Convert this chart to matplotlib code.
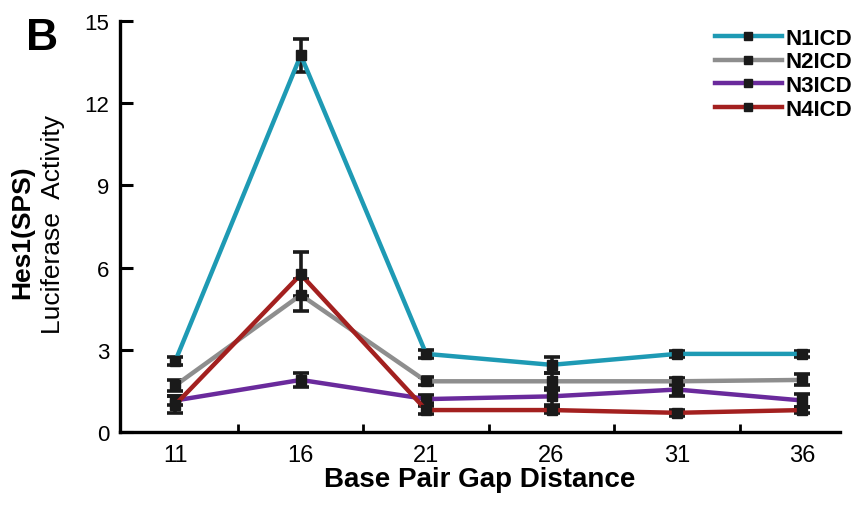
import matplotlib.pyplot as plt
from matplotlib.lines import Line2D
import numpy as np

plt.rcParams['font.family'] = ['Liberation Sans', 'DejaVu Sans']

gap = [11, 16, 21, 26, 31, 36]
labels = ['N1ICD', 'N2ICD', 'N3ICD', 'N4ICD']
n1 = [2.6, 13.75, 2.85, 2.45, 2.85, 2.85]
n2 = [1.7, 5.0, 1.85, 1.85, 1.85, 1.9]
n3 = [1.15, 1.9, 1.2, 1.3, 1.55, 1.15]
n4 = [1.0, 5.75, 0.8, 0.8, 0.7, 0.8]
n1_err = [0.15, 0.6, 0.15, 0.3, 0.12, 0.12]
n2_err = [0.2, 0.6, 0.15, 0.3, 0.12, 0.2]
n3_err = [0.15, 0.25, 0.15, 0.3, 0.25, 0.25]
n4_err = [0.3, 0.8, 0.15, 0.1, 0.1, 0.1]
colors = ['#1e9ab4', '#8e8e8e', '#6a2a9c', '#a3201f']

fig = plt.figure(figsize=(8.65, 5.1), dpi=100)
ax = fig.add_axes([0.139, 0.151, 0.832, 0.806])

handles = []
for vals, errs, c, lab in zip([n1, n2, n3, n4], [n1_err, n2_err, n3_err, n4_err], colors, labels):
    ax.errorbar(gap, vals, yerr=errs, color=c, lw=3.2, marker='s', ms=7,
                mfc='#1a1a1a', mec='#1a1a1a', ecolor='#1a1a1a', elinewidth=2.6,
                capsize=5.5, capthick=2.6, zorder=3)
    handles.append(Line2D([], [], color=c, lw=3.2, marker='s', ms=6,
                          mfc='#1a1a1a', mec='#1a1a1a', label=lab))

ax.set_xlim(8.8, 37.5)
ax.set_ylim(0, 15)
ax.set_yticks([0, 3, 6, 9, 12, 15])
ax.set_xticks(gap)
ax.set_xticks(np.array(gap[:-1]) + 2.5, minor=True)
ax.tick_params(axis='x', which='major', length=0, labelsize=17, pad=9)
ax.tick_params(axis='x', which='minor', direction='in', length=6, width=2)
ax.tick_params(axis='y', direction='in', length=9, width=2.2, labelsize=16, pad=8)
for s in ['top', 'right']:
    ax.spines[s].set_visible(False)
for s in ['left', 'bottom']:
    ax.spines[s].set_linewidth(2.4)

ax.set_xlabel('Base Pair Gap Distance', fontsize=20, fontweight='bold', labelpad=0)
fig.text(0.026, 0.545, 'Hes1(SPS)', rotation=90, fontsize=19, fontweight='bold',
         ha='center', va='center')
fig.text(0.061, 0.56, 'Luciferase  Activity', rotation=90, fontsize=19,
         ha='center', va='center')
fig.text(0.03, 0.965, 'B', fontsize=32, fontweight='bold', va='top')

ax.legend(handles=handles, loc='upper right', bbox_to_anchor=(1.03, 1.005), frameon=False,
          prop={'size': 16, 'weight': 'bold'}, labelspacing=0.12,
          handlelength=3.0, handletextpad=0.2, borderaxespad=0)

fig.savefig('out.png', dpi=100)
